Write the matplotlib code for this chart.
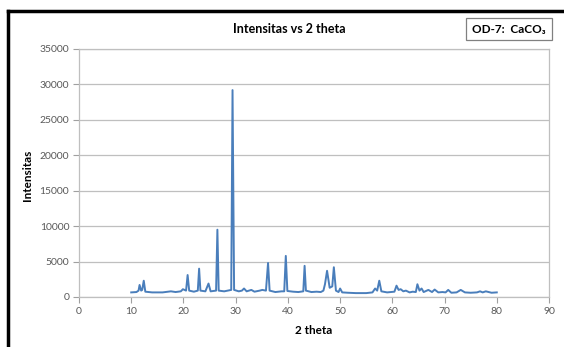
import matplotlib
matplotlib.use("Agg")
import matplotlib.pyplot as plt
from matplotlib.lines import Line2D

# 2-theta positions (degrees) and intensities
two_theta = [10.0, 11.0, 11.4, 11.6, 11.9, 12.1, 12.4, 12.7, 14.0, 16.0, 17.6, 18.5, 19.5, 19.9,
             20.5, 20.8, 21.1, 22.0, 22.75, 23.0, 23.25, 24.2, 24.8, 25.2, 26.25, 26.5, 26.75,
             27.8, 29.15, 29.4, 29.7, 30.6, 31.2, 31.6, 32.1, 33.0, 33.6, 34.6, 35.1, 35.8,
             36.2, 36.5, 37.6, 38.8, 39.3, 39.6, 39.9, 41.0, 42.0, 42.95, 43.2, 43.45, 44.5,
             45.5, 46.3, 46.8, 47.1, 47.5, 48.0, 48.5, 48.8, 49.2, 49.7, 50.0, 50.4, 51.5,
             53.0, 55.0, 56.2, 56.7, 57.1, 57.5, 57.9, 59.0, 60.4, 60.8, 61.2, 61.6, 62.1,
             62.6, 63.3, 63.9, 64.5, 64.8, 65.2, 65.6, 66.0, 66.9, 67.6, 68.1, 68.8, 69.6,
             70.2, 70.7, 71.3, 72.3, 73.1, 73.9, 75.0, 76.2, 76.8, 77.3, 77.9, 79.0, 80.0]
intensity = [650, 700, 900, 1700, 900, 1000, 2300, 750, 650, 650, 800, 700, 800, 1100,
             900, 3100, 900, 750, 900, 4000, 900, 800, 1900, 800, 900, 9500, 900,
             800, 1000, 29200, 1000, 800, 900, 1200, 800, 1000, 750, 900, 1000, 900,
             4800, 900, 700, 800, 800, 5800, 850, 750, 700, 800, 4400, 900, 700,
             750, 700, 900, 1800, 3700, 1300, 1500, 4200, 900, 700, 1200, 650, 600,
             550, 550, 650, 1200, 900, 2300, 800, 650, 750, 1600, 1000, 1100, 800,
             900, 650, 750, 700, 1800, 900, 1200, 700, 1000, 700, 1050, 650, 700,
             650, 1000, 600, 650, 1000, 650, 600, 650, 800, 650, 800, 600, 650]

x_ticks = [0, 10, 20, 30, 40, 50, 60, 70, 80, 90]
y_ticks = [0, 5000, 10000, 15000, 20000, 25000, 30000, 35000]

title = "Intensitas vs 2 theta"
x_label = "2 theta"
y_label = "Intensitas"
sample_label = "OD-7:  CaCO₃"

plt.rcParams['font.family'] = ['Lato', 'DejaVu Sans']

fig = plt.figure(figsize=(5.64, 3.47), dpi=100)
ax = fig.add_axes([79/564, 1 - 297/347, (549 - 79)/564, (297 - 49)/347])

ax.plot(two_theta, intensity, color='#4A7EBB', linewidth=1.4)

ax.set_xlim(0, 90)
ax.set_ylim(0, 35000)
ax.set_xticks(x_ticks)
ax.set_yticks(y_ticks)
ax.set_xticklabels([str(v) for v in x_ticks])
ax.set_yticklabels([str(v) for v in y_ticks])
ax.tick_params(axis='both', direction='out', length=4, width=0.8, color='#A0A0A0',
               labelsize=7.5, labelcolor='#595959', pad=3)
ax.yaxis.grid(True, color='#BFBFBF', linewidth=0.9)
ax.set_axisbelow(True)
for sp in ax.spines.values():
    sp.set_color('#BFBFBF')
    sp.set_linewidth(0.9)

fig.text(289/564, 1 - 29/347, title, ha='center', va='center', fontsize=9, fontweight='bold')
fig.text(314/564, 1 - 330/347, x_label, ha='center', va='center', fontsize=8.5, fontweight='bold')
fig.text(28/564, 1 - 175/347, y_label, ha='center', va='center', rotation=90, fontsize=8.5, fontweight='bold')

fig.text(509/564, 1 - 29/347, sample_label, ha='center', va='center', fontsize=8.5, fontweight='bold',
         bbox=dict(boxstyle='square,pad=0.5', facecolor='white', edgecolor='#808080', linewidth=0.9))

# outer frame (top and left thick black edges)
fig.add_artist(Line2D([8/564, 1.0], [1 - 11/347, 1 - 11/347], color='black', linewidth=2.5,
                      transform=fig.transFigure))
fig.add_artist(Line2D([8/564, 8/564], [0.0, 1 - 11/347], color='black', linewidth=2.5,
                      transform=fig.transFigure))

fig.savefig("out.png", dpi=100)
